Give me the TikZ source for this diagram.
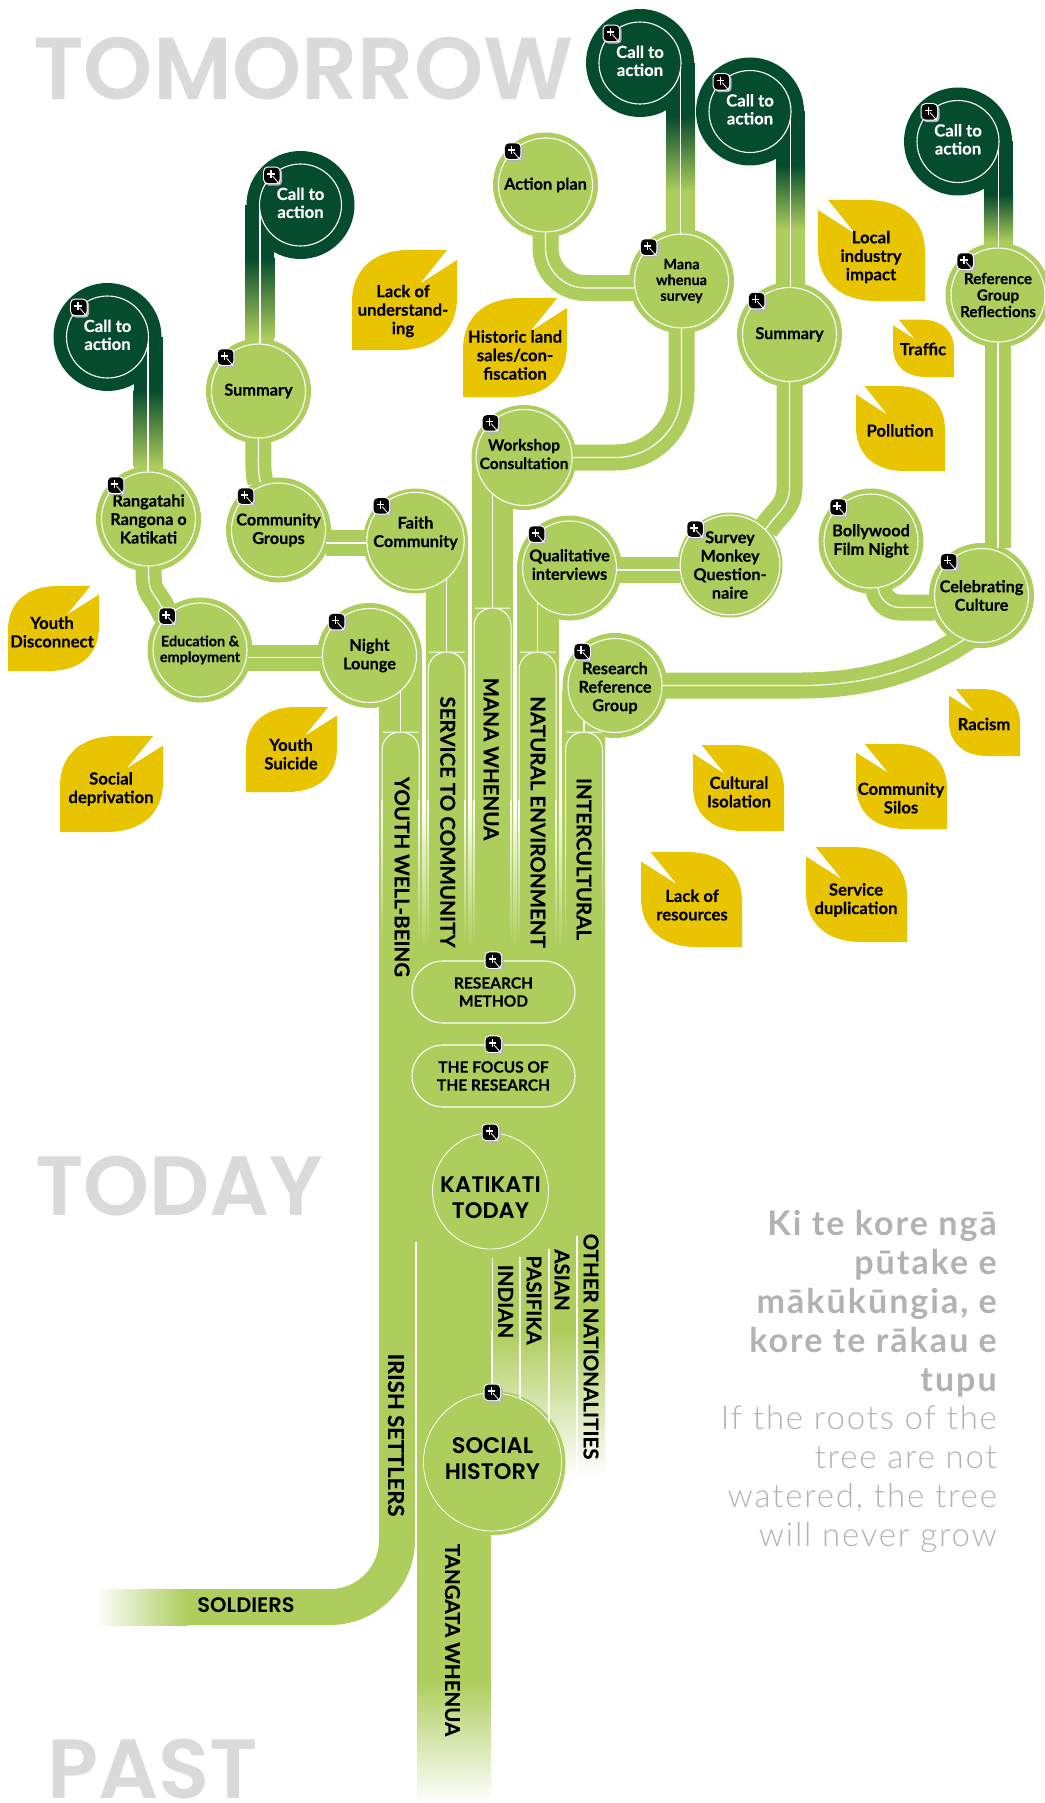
\documentclass[tikz,border=0pt]{standalone}
\usepackage{fontspec}
\setmainfont[BoldFeatures={FakeBold=0.3}]{Lato}
\newfontfamily\headfont[BoldFont={Poppins SemiBold}]{Poppins}
\newfontfamily\thinfont[LetterSpace=5.5]{Lato Light}
\newfontfamily\sayfont[LetterSpace=6]{Lato}
\usetikzlibrary{calc, backgrounds}

\definecolor{leafgreen}{HTML}{ADCD5C}
\definecolor{darkleaf}{HTML}{054B2D}
\definecolor{leafyellow}{HTML}{E8C500}
\definecolor{timegray}{HTML}{DADADA}
\definecolor{saygray}{HTML}{B2B2B2}

\newcommand{\lineshim}[1]{\rule[-#1pt]{0pt}{#1pt}}
\newcommand{\calltext}{Call to\\action\lineshim{4.5}}

\tikzset{
  spot/.style={circle, draw=white, line width=1.1pt, fill=leafgreen, minimum size=94pt, inner sep=0pt,
    align=center, text=black, font=\fontsize{16.3}{18.5}\selectfont\bfseries},
  smallspot/.style={spot, font=\fontsize{14.4}{15.8}\selectfont\bfseries},
  callspot/.style={spot, fill=darkleaf, text=white, minimum size=82pt, font=\fontsize{16.7}{18}\selectfont\bfseries},
  capsule/.style={draw=white, line width=1.1pt, rounded corners=31pt, fill=leafgreen, minimum width=163pt,
    minimum height=62pt, inner sep=0pt, align=center, text=black, font=\fontsize{15.5}{18}\selectfont\bfseries},
  bigspot/.style={spot, line width=.8pt, text=black, font=\headfont\fontsize{22.5}{25.5}\selectfont\bfseries},
  branch/.style={draw=leafgreen, line width=12.4pt, double=white, double distance=1.2pt},
  vein/.style={draw=white, line width=1.2pt},
  striplabel/.style={rotate=-90, inner sep=0pt, text=black, font=\fontsize{20.5}{22}\selectfont\bfseries},
  timelabel/.style={anchor=base west, inner sep=0pt, text=timegray, font=\headfont\fontsize{84}{90}\selectfont\bfseries},
  leaflabel/.style={inner sep=0pt, align=center, text=black, font=\fontsize{16.7}{18.5}\selectfont\bfseries},
  zoomicon/.pic={
    \fill[black!30, rounded corners=4pt] (-7,-7) rectangle (10,10);
    \fill[white, rounded corners=4.5pt] (-9,-9) rectangle (8.5,8.5);
    \fill[black, rounded corners=4pt] (-8,-8) rectangle (7.5,7.5);
    \draw[white, line width=1.5pt] (-5,-1.5) -- (2.5,-1.5) (-1.2,-5.5) -- (-1.2,2.5);
    \draw[white, line width=.8pt] (.5,.5) -- (7.5,8.5);
  }
}

\begin{document}
\begin{tikzpicture}[x=1pt, y=-1pt]
  \useasboundingbox (0,0) rectangle (1044,1803);

  \node[timelabel, font=\headfont\fontsize{88}{90}\selectfont\bfseries] (tomorrow) at (33,100) {TOMORROW};
  \node[timelabel] (today) at (35,1215) {TODAY};
  \node[timelabel] (past) at (47,1798) {PAST};

  \node[callspot] (calla) at (107.5,337) {\calltext};
  \node[callspot] (callb) at (300.5,205) {\calltext};
  \node[callspot] (callc) at (640,63) {\calltext};
  \node[callspot] (calld) at (750,111.5) {\calltext};
  \node[callspot] (calle) at (958,141.5) {\calltext};

  \node[spot] (rangatahi) at (148.5,519) {Rangatahi\\Rangona o\\Katikati};
  \node[spot] (summarya) at (258.5,391) {Summary};
  \node[spot] (community) at (278.5,530) {Community\\Groups};
  \node[spot] (faith) at (415.5,541) {Faith\\Community\\\mbox{}};
  \node[smallspot] (education) at (200,650) {Education \&\\employment};
  \node[spot] (nightlounge) at (369.5,655.5) {Night\\Lounge};
  \node[spot] (actionplan) at (545.5,185) {Action plan};
  \node[smallspot] (mana) at (681.5,281) {Mana\\whenua\\survey};
  \node[spot, font=\fontsize{15.6}{18.5}\selectfont\bfseries] (workshop) at (524,457.5) {Workshop\\Consultation\lineshim{7}};
  \node[spot] (qualitative) at (569.5,568) {Qualitative\\interviews\lineshim{7}};
  \node[spot] (summaryb) at (789.5,334.5) {Summary};
  \node[spot] (survey) at (730,565) {Survey\\Monkey\\Question-\\naire};
  \node[spot] (bollywood) at (871,541) {Bollywood\\Film Night};
  \node[smallspot, font=\fontsize{15.2}{16.5}\selectfont\bfseries] (reference) at (998,295) {Reference\\Group\\Reflections};
  \node[spot] (celebrating) at (981.5,595.5) {Celebrating\\Culture};
  \node[spot] (researchref) at (615,685.5) {\rule{0pt}{17pt}Research\\Reference\\Group};

  \node[capsule] (method) at (493.5,992) {RESEARCH\\METHOD};
  \node[capsule] (focus) at (493.5,1076) {THE FOCUS OF\\THE RESEARCH};
  \node[bigspot, minimum size=116pt] (katikati) at (490.5,1191) {\rule{0pt}{29pt}KATIKATI\\TODAY};
  \node[bigspot, minimum size=138pt] (social) at (492.5,1462) {SOCIAL\\HISTORY\lineshim{7}};

  \begin{scope}[on background layer]
    \fill[leafgreen] (379,945) rectangle (605,1242);
    \fill[leafgreen] (417,1242) rectangle (605,1331);
    \fill[leafgreen] (417,1242) rectangle (491,1681);
    \shade[top color=leafgreen, bottom color=white] (417,1680) rectangle (491,1803);
    \shade[top color=leafgreen, bottom color=white] (492,1330) rectangle (605,1476);

    \coordinate (soldierend) at (187,1607);
    \draw[leafgreen, line width=36pt, rounded corners=67pt] (397,1230) |- (soldierend);
    \shade[left color=white, right color=leafgreen] (96,1589) rectangle (188,1625);

    \foreach \xa/\xb/\ytop in {379/422/660, 426/468/541, 472/513/457, 517/559/568, 562/605/690}
      \fill[leafgreen] (\xa,\ytop) rectangle (\xb,950);
    \foreach \xa/\xb in {422/426, 468/472, 513/517, 559/562}
      \shade[top color=white, bottom color=leafgreen] (\xa,800) rectangle (\xb,950);

    \foreach \n in {rangatahi, summarya, community, faith, education, nightlounge, actionplan, mana,
      workshop, qualitative, summaryb, survey, bollywood, reference, celebrating, researchref}
      \fill[leafgreen] (\n) circle (52.5pt);
    \fill[leafgreen] ($(social)+(1,1)$) circle (72pt);

    \foreach \cx/\ctop/\nd in {400.5/732/nightlounge, 446.7/652/faith, 492.5/608/workshop, 537.5/652/qualitative, 584/732/researchref}{
      \coordinate (stem) at (\cx,\ctop);
      \draw[vein] (stem) -- (stem |- \nd);
      \draw[vein, line width=1pt, rounded corners=18pt] (\cx-18.5,801) |- (stem) -| (\cx+18.5,801);
      \shade[top color=white, bottom color=leafgreen] (\cx-19,800) rectangle (\cx-18,945);
      \shade[top color=white, bottom color=leafgreen] (\cx+18,800) rectangle (\cx+19,945);
    }

    \draw[vein, line width=2pt] (416,1242) -- (416,1540);
    \draw[vein, line width=1.6pt] (492.3,1258) -- (492.3,1400);
    \draw[vein] (520,1257) -- (520,1420);
    \draw[vein] (549,1249) -- (549,1440);
    \draw[vein] (577,1236) -- (577,1476);

    \draw[branch] (rangatahi.south) .. controls +(0,32) and +(-14,-30) .. (education.north west);
    \draw[branch] (summarya.south) .. controls +(0,25) and +(-3,-12) .. ([xshift=-18pt]community.north);
    \draw[branch] ([yshift=-2pt]faith.west) -- ([yshift=-2pt]faith.west -| community.east);
    \draw[branch] ([yshift=-2pt]nightlounge.west) -- ([yshift=-2pt]nightlounge.west -| education.east);
    \draw[branch] ([yshift=-5pt]survey.west) -- ([yshift=-5pt]survey.west -| qualitative.east);
    \draw[branch, rounded corners=40pt] (actionplan.south) |- ([yshift=-7pt]mana.west);
    \draw[branch, rounded corners=66pt] (mana.south) |- (workshop.east);
    \draw[branch] (summaryb.south) -- ++(0,105) .. controls +(0,20) and +(12,-18) .. (survey.north east);
    \draw[branch, rounded corners=22pt] ([xshift=7pt]bollywood.south) |- ([yshift=-12pt]celebrating.west);
    \draw[branch] (reference.south) -- (reference.south |- celebrating.north);
    \draw[branch] (researchref.east) -- ++(138,0) .. controls +(70,0) and +(-50,36) .. ($(celebrating.south)+(-5,-12)$);

    \foreach \cta/\side/\nudge/\kid/\fade in {calla/east/-1/rangatahi/76, callb/west/1/summarya/80, callc/east/-1/mana/75, calld/east/-1/summaryb/65, calle/east/-1/reference/47}{
      \fill[darkleaf] (\cta) circle (54pt);
      \coordinate (tailtop) at ($(\cta.\side)+(\nudge,0)$);
      \fill[leafgreen] ($(tailtop)+(-14.5,0)$) rectangle ($(tailtop |- \kid)+(14.5,0)$);
      \fill[darkleaf] ($(tailtop)+(-14.5,0)$) rectangle ($(tailtop)+(14.5,53.5)$);
      \shade[top color=darkleaf, bottom color=leafgreen] ($(tailtop)+(-14.5,53)$) rectangle ($(tailtop)+(14.5,53+\fade)$);
      \draw[vein] (tailtop) -- (tailtop |- \kid);
    }
  \end{scope}

  \foreach \lx/\ly/\lw/\lh/\tx/\ty/\ltext [count=\i] in {
    352/250/105/100/403/311/{Lack of\\understand-\\ing},
    463/298/104/99/515/355/{Historic land\\sales/con-\\fiscation},
    8/586/91/85/52/632/{Youth\\Disconnect},
    246/707/91/85/291/754/{Youth\\Suicide},
    60/736/103/96/111/789/{Social\\deprivation},
    925/200/-107/101/871/257/{Local\\industry\\impact},
    954/319.5/-61/57.5/923/349/{Traffic},
    945/386/-89/85/900/430.5/{Pollution},
    1020/689/-71/67/984/724/{Racism},
    784/745/-91/86/739/792/{Cultural\\Isolation},
    947/744/-91/85/901/798/{Community\\Silos},
    742/852/-101/95/692/905/{Lack of\\resources},
    907/847/-101/95/856/900/{Service\\duplication}}{
    \begin{scope}[shift={(\lx,\ly)}, x=\lw pt, y=-\lh pt]
      \fill[leafyellow] (0,1) -- (0,.52) .. controls (0,.2) and (.2,0) .. (.55,0) -- (.905,0) -- (.645,.34)
        -- (1,.1) -- (1,.48) .. controls (1,.8) and (.8,1) .. (.45,1) -- cycle;
    \end{scope}
    \node[leaflabel] (leaf\i) at (\tx,\ty) {\ltext};
  }

  \foreach \n in {calla, callb, callc, calld, calle, rangatahi, summarya, community, faith, education,
    nightlounge, actionplan, mana, workshop, qualitative, summaryb, survey, bollywood, reference,
    celebrating, researchref}
    \pic at ([xshift=1pt]\n.north west) {zoomicon};
  \foreach \n in {method, focus, katikati, social}
    \pic at (\n.north) {zoomicon};

  \node[striplabel] (youthwell) at (402,877) {YOUTH WELL-BEING};
  \node[striplabel] (service) at (447.7,822) {SERVICE TO COMMUNITY};
  \node[striplabel] (manastrip) at (491,759) {MANA WHENUA};
  \node[striplabel] (natural) at (538,822) {NATURAL ENVIRONMENT};
  \node[striplabel] (intercultural) at (584,859) {INTERCULTURAL};
  \node[striplabel, font=\fontsize{22}{24}\selectfont\bfseries] (irish) at (396,1435) {IRISH SETTLERS};
  \node[striplabel] (tangata) at (452.5,1640) {TANGATA WHENUA};
  \node[striplabel] (indian) at (505.6,1301.5) {INDIAN};
  \node[striplabel] (pasifika) at (534,1300) {PASIFIKA};
  \node[striplabel] (asian) at (562,1280) {ASIAN};
  \node[striplabel] (others) at (591,1346.5) {OTHER NATIONALITIES};
  \node[inner sep=0pt, text=black, font=\headfont\fontsize{21}{22}\selectfont\bfseries] (soldiers) at (246,1605) {SOLDIERS};

  \node[anchor=north east, inner sep=0pt, align=right, text=saygray, font=\sayfont\fontsize{34}{39}\selectfont\bfseries] (saying) at (997,1210)
    {Ki te kore ngā\\pūtake e\\mākūkūngia, e\\kore te rākau e\\tupu};
  \node[anchor=north east, inner sep=0pt, align=right, text=saygray, font=\thinfont\fontsize{33}{39}\selectfont] (meaning) at (997,1405)
    {If the roots of the\\tree are not\\watered, the tree\\will never grow};
\end{tikzpicture}
\end{document}
